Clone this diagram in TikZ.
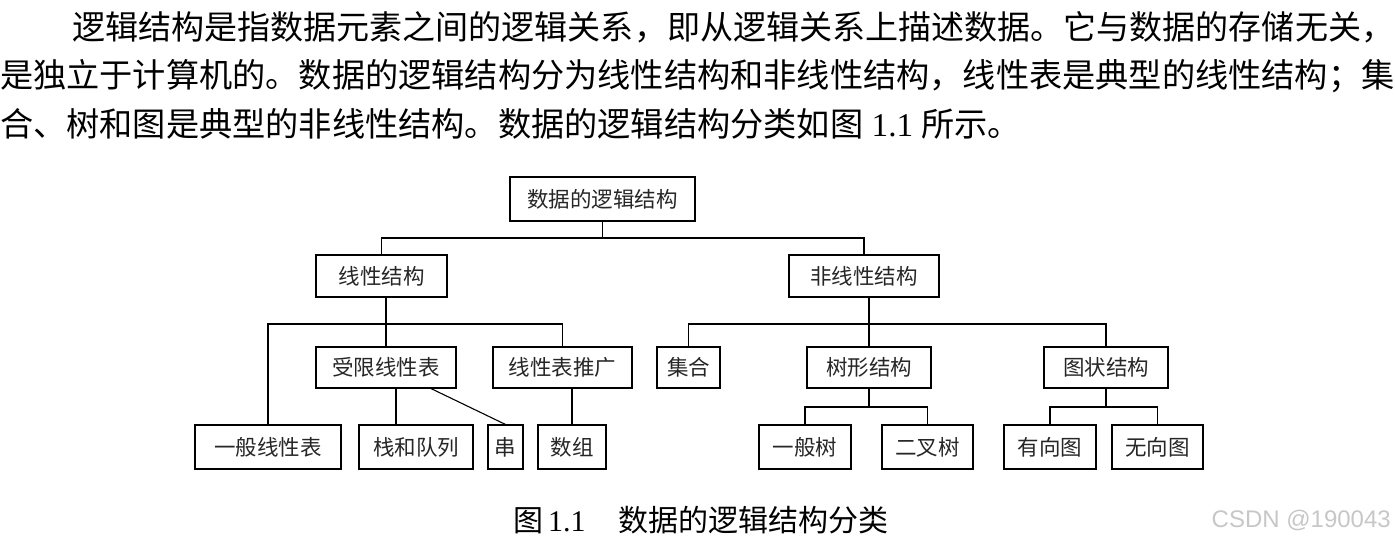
\documentclass[tikz,border=0pt]{standalone}
\usepackage{fontspec}
\setmainfont{Liberation Serif}
\newfontfamily\cjk{Noto Sans CJK SC}
\newfontfamily\wmfont{Liberation Sans}
\usepackage{tikz}
\tikzset{%
  box/.style   = {shape=rectangle, draw, line width=1.1pt, inner sep=0pt,%
                  minimum height=42pt, text=black!85,%
                  font=\cjk\fontsize{21.5}{21.5}\selectfont},%
  para/.style  = {anchor=west, inner sep=0pt,%
                  font=\cjk\fontsize{33.2}{33.2}\selectfont},%
  link/.style  = {line width=1.1pt}%
}

\begin{document}
\begin{tikzpicture}[x=1pt,y=-1pt]
  \useasboundingbox (0,0) rectangle (1395,543);
  % paragraph above the figure
  \node[para, font=\cjk\fontsize{33.05}{33.05}\selectfont] (line1) at (72,27)
    {逻辑结构是指数据元素之间的逻辑关系，即从逻辑关系上描述数据。它与数据的存储无关，};
  \node[para] (line2) at (0,76)
    {是独立于计算机的。数据的逻辑结构分为线性结构和非线性结构，线性表是典型的线性结构；集};
  \node[para] (line3) at (0,124)
    {合、树和图是典型的非线性结构。数据的逻辑结构分类如图{\rmfamily\ 1.1\ }所示。};
  % the tree
  \node[box, minimum width=185pt, minimum height=44pt] (root) at (602.5,199) {数据的逻辑结构};
  \node[box, minimum width=131pt] (lin)    at (381.5,276) {线性结构};
  \node[box, minimum width=150pt] (nonlin) at (864,276)   {非线性结构};
  \node[box, minimum width=140pt, minimum height=41pt] (restr) at (386,367.5)  {受限线性表};
  \node[box, minimum width=139pt, minimum height=41pt] (gen)   at (562.5,367.5){线性表推广};
  \node[box, minimum width=63pt,  minimum height=41pt] (set)   at (688.5,367.5){集合};
  \node[box, minimum width=124pt, minimum height=41pt] (tree)  at (869,367.5)  {树形结构};
  \node[box, minimum width=124pt, minimum height=41pt] (graph) at (1106,367.5) {图状结构};
  \node[box, minimum width=146pt, minimum height=44pt] (genlist) at (268,447)  {一般线性表};
  \node[box, minimum width=114pt, minimum height=44pt] (stack)   at (416,447)  {栈和队列};
  \node[box, minimum width=35pt,  minimum height=44pt] (str)     at (505.5,447){串};
  \node[box, minimum width=68pt,  minimum height=44pt] (arr)     at (572,447)  {数组};
  \node[box, minimum width=92pt,  minimum height=44pt] (gtree)   at (805,447)  {一般树};
  \node[box, minimum width=91pt,  minimum height=44pt] (btree)   at (927.5,447){二叉树};
  \node[box, minimum width=92pt,  minimum height=44pt] (dgraph)  at (1050,447) {有向图};
  \node[box, minimum width=91pt,  minimum height=44pt] (ugraph)  at (1157.5,447){无向图};
  % bar heights
  \coordinate (bar1) at (0,238);
  \coordinate (bar2) at (0,324);
  \coordinate (bar3) at (0,407);
  % connectors
  \draw[link] (root.south) -- (root.south |- bar1);
  \draw[link] (lin.north) -- (lin.north |- bar1) -- (nonlin.north |- bar1) -- (nonlin.north);
  \draw[link] (restr.north |- lin.south) -- (restr.north);
  \draw[link] (genlist.north) -- (genlist.north |- bar2) -- (gen.north |- bar2) -- (gen.north);
  \draw[link] (tree.north |- nonlin.south) -- (tree.north);
  \draw[link] (set.north) -- (set.north |- bar2) -- (graph.north |- bar2) -- (graph.north);
  \draw[link] ([xshift=-20pt]stack.north) -- ([xshift=-20pt]stack.north |- restr.south);
  \draw[link] ([xshift=45pt]restr.south) -- (str.north);
  \draw[link] (arr.north) -- (arr.north |- gen.south);
  \draw[link] (tree.south) -- (tree.south |- bar3);
  \draw[link] (gtree.north) -- (gtree.north |- bar3) -- (btree.north |- bar3) -- (btree.north);
  \draw[link] (graph.south) -- (graph.south |- bar3);
  \draw[link] (dgraph.north) -- (dgraph.north |- bar3) -- (ugraph.north |- bar3) -- (ugraph.north);
  % caption and mark
  \node[anchor=west, inner sep=0pt, font=\fontsize{30}{30}\selectfont] (caption) at (513,520)
    {{\cjk 图}\,1.1\hspace{33pt}{\cjk 数据的逻辑结构分类}};
  \node[anchor=east, inner sep=0pt, text=black!22, font=\wmfont\fontsize{24}{24}\selectfont] (mark) at (1391,520)
    {CSDN @190043};
\end{tikzpicture}
\end{document}
